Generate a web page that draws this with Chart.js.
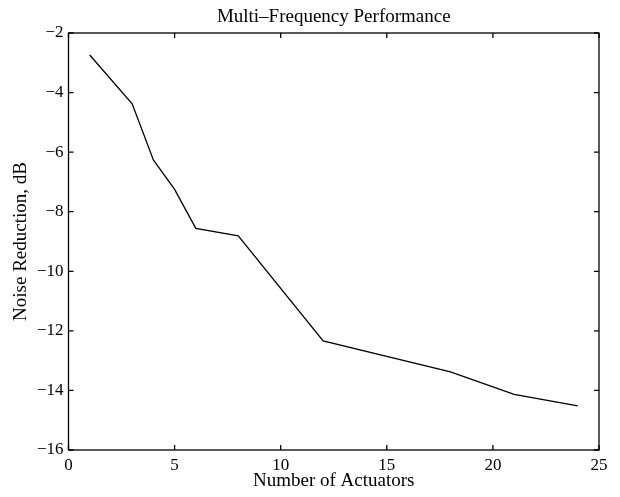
<!DOCTYPE html>
<html>
<head>
<meta charset="utf-8">
<script src="https://cdn.jsdelivr.net/npm/chart.js@4/dist/chart.umd.min.js"></script>
<style>
  html, body { margin: 0; padding: 0; background: #fff; }
  #wrap { width: 620px; height: 497px; }
</style>
</head>
<body>
<div id="wrap"><canvas id="c" width="620" height="497"></canvas></div>
<script>
// Data
const actuators = [1, 3, 4, 5, 6, 8, 12, 18, 21, 24];
const noiseReduction = [-2.74, -4.38, -6.26, -7.25, -8.56, -8.81, -12.34, -13.38, -14.13, -14.52];
const xTicks = [0, 5, 10, 15, 20, 25];
const yTicks = [-16, -14, -12, -10, -8, -6, -4, -2];
const titleText = 'Multi\u2013Frequency Performance';
const xTitle = 'Number of Actuators';
const yTitle = 'Noise Reduction, dB';

const FONT = "'Liberation Serif', 'DejaVu Serif', serif";
const fmt = v => (v < 0 ? '\u2212' + Math.abs(v) : String(v));

const boxTicks = {
  id: 'boxTicks',
  afterDraw(chart) {
    const {ctx, chartArea: a, scales: {x, y}} = chart;
    ctx.save();
    ctx.strokeStyle = '#000';
    ctx.lineWidth = 1.3;
    ctx.strokeRect(a.left, a.top, a.right - a.left, a.bottom - a.top);
    const L = 5;
    ctx.beginPath();
    x.ticks.forEach(t => {
      const px = x.getPixelForValue(t.value);
      ctx.moveTo(px, a.bottom); ctx.lineTo(px, a.bottom - L);
      ctx.moveTo(px, a.top); ctx.lineTo(px, a.top + L);
    });
    y.ticks.forEach(t => {
      const py = y.getPixelForValue(t.value);
      ctx.moveTo(a.left, py); ctx.lineTo(a.left + L, py);
      ctx.moveTo(a.right, py); ctx.lineTo(a.right - L, py);
    });
    ctx.stroke();
    ctx.restore();
  }
};

new Chart(document.getElementById('c'), {
  type: 'line',
  data: {
    datasets: [{
      data: actuators.map((a, i) => ({x: a, y: noiseReduction[i]})),
      borderColor: '#000',
      borderWidth: 1.3,
      pointRadius: 0,
      tension: 0,
      fill: false
    }]
  },
  options: {
    responsive: false,
    animation: false,
    devicePixelRatio: 1,
    layout: { padding: { left: 0, right: 21, top: 0, bottom: 0 } },
    plugins: {
      legend: { display: false },
      tooltip: { enabled: false },
      title: { display: false }
    },
    scales: {
      x: {
        type: 'linear',
        min: 0, max: 25,
        afterBuildTicks: s => { s.ticks = xTicks.map(v => ({value: v})); },
        afterFit: s => { s.height = 47; },
        grid: { display: false, drawTicks: false },
        border: { display: false },
        ticks: { color: '#000', padding: 5, maxRotation: 0, font: { family: FONT, size: 17 }, callback: fmt },
        title: { display: true, text: xTitle, color: '#000', font: { family: FONT, size: 19, lineHeight: 1.2 }, padding: { top: 0, bottom: 5 } }
      },
      xTop: {
        type: 'linear',
        position: 'top',
        min: 0, max: 25,
        afterFit: s => { s.height = 33; },
        grid: { display: false, drawTicks: false },
        border: { display: false },
        ticks: { display: false },
        title: { display: true, text: titleText, color: '#000', font: { family: FONT, size: 19, lineHeight: 1.2 }, padding: { top: 6, bottom: 0 } }
      },
      y: {
        type: 'linear',
        min: -16, max: -2,
        afterBuildTicks: s => { s.ticks = yTicks.map(v => ({value: v})); },
        afterFit: s => { s.width = 68.5; },
        grid: { display: false, drawTicks: false },
        border: { display: false },
        ticks: { color: '#000', padding: 5, font: { family: FONT, size: 17 }, callback: fmt },
        title: { display: true, text: yTitle, color: '#000', font: { family: FONT, size: 19, lineHeight: 1.2 }, padding: { top: 10, bottom: 0 } }
      }
    }
  },
  plugins: [boxTicks]
});
</script>
</body>
</html>
